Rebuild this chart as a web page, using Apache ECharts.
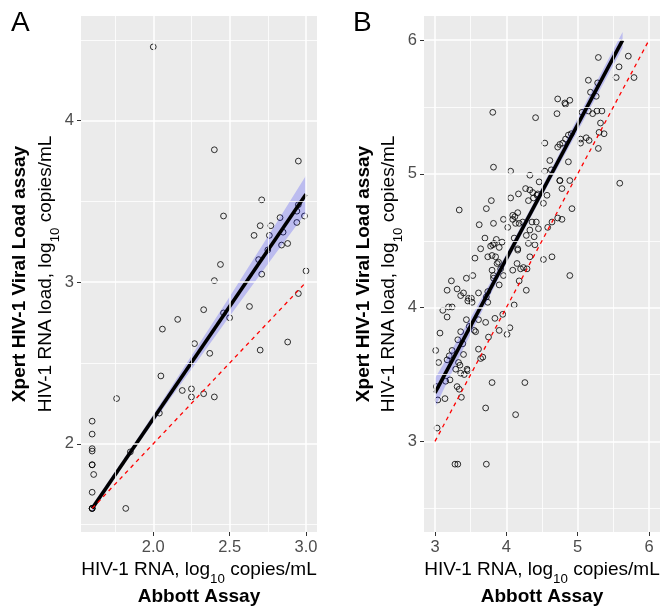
<!DOCTYPE html>
<html><head><meta charset="utf-8">
<script src="https://cdn.jsdelivr.net/npm/echarts@6/dist/echarts.min.js"></script>
<style>html,body{margin:0;padding:0;background:#fff}#c{width:663px;height:609px}</style>
</head><body><div id="c"></div>
<script>
// ---------- Panel A data ----------
const aAbbott = [2.05,1.76,2.19,2.25,2.25,2.04,1.60,1.60,1.60,1.60,1.60,1.60,1.61,1.60,1.60,1.60,1.60,1.85,1.82,
  2.40,2.71,3.00,2.33,2.63,2.95,2.16,2.06,2.50,2.46,2.27,2.37,2.70,2.88,2.33,2.40,
  2.40,2.95,2.71,2.46,2.95,2.94,2.99,2.83,2.94,2.77,2.70,2.85,2.66,2.76,2.84,2.88,2.75,2.69,2.44,2.00];
const aXpert = [2.42,2.28,2.33,2.34,2.29,2.19,2.14,2.06,1.97,1.955,1.87,1.87,1.81,1.70,1.60,1.60,1.60,1.95,1.60,
  3.01,3.05,3.07,2.83,2.85,2.93,2.77,2.71,2.78,2.81,2.62,2.56,2.58,2.63,2.31,2.29,
  3.82,3.75,3.51,3.41,3.48,3.44,3.41,3.40,3.37,3.35,3.35,3.31,3.29,3.29,3.23,3.24,3.20,3.14,3.11,4.457];
const aFitX = [1.60, 3.00];
const aFitY = [1.60, 3.545];
const aIdentity = [1.60, 3.00];
const aBandX  = [1.60, 1.90, 2.10, 2.30, 2.50, 2.80, 3.00];
const aBandLo = [1.58, 1.997, 2.265, 2.527, 2.79, 3.177, 3.43];
const aBandHi = [1.62, 2.037, 2.325, 2.617, 2.91, 3.357, 3.66];
const aXTicks = [2.0, 2.5, 3.0];
const aXMinor = [1.75, 2.25, 2.75];
const aYTicks = [2, 3, 4];
const aYMinor = [1.5, 2.5, 3.5, 4.5];

// ---------- Panel B data ----------
const bAbbott = [3.19,3.24,3.11,3.17,3.46,3.52,3.74,4.11,3.95,3.84,3.44,3.61,3.71,4.05,3.90,4.01,3.55,3.57,3.48,3.36,3.07,3.75,3.32,3.39,3.24,3.01,3.61,3.40,3.20,3.17,3.05,3.33,3.67,3.64,3.35,3.29,3.45,3.46,3.36,3.41,3.21,3.15,3.80,4.26,3.02,3.31,3.34,3.37,3.14,3.04,3.71,4.13,3.03,3.28,3.32,3.72,
  3.34,3.79,3.72,4.06,4.17,4.27,4.33,4.37,4.44,4.31,4.09,4.16,4.12,4.09,4.23,4.18,4.13,4.36,4.42,3.96,3.82,3.62,4.02,4.33,4.45,4.28,4.39,3.70,3.86,3.94,3.83,3.81,3.78,4.31,4.40,3.90,3.64,4.16,4.16,3.80,3.74,3.85,3.56,4.33,3.89,3.87,4.15,4.24,4.29,4.20,4.09,3.80,3.92,3.96,3.82,3.82,3.53,3.44,3.23,4.18,3.90,3.17,3.31,3.40,3.36,3.61,3.74,3.72,4.28,3.47,3.51,
  4.41,4.71,4.54,4.72,4.75,4.79,4.83,4.87,4.91,5.04,5.12,5.16,5.04,5.29,5.32,5.37,5.30,4.61,4.87,4.06,4.33,4.54,4.63,4.75,4.75,4.89,4.78,4.46,4.38,4.43,4.57,4.52,4.92,4.11,4.64,4.72,4.78,4.58,4.64,4.52,4.89,
  5.29,5.71,5.58,5.54,5.79,5.15,5.28,5.18,5.26,4.72,4.89,4.82,4.83,5.06,5.15,5.21,5.27,5.34,5.59,
  3.81,3.82];
const bXpert = [4.005,4.005,3.98,3.93,4.05,4.04,4.04,4.02,3.95,3.92,3.91,3.91,3.89,3.85,3.83,3.80,3.83,3.82,3.86,3.82,3.81,3.78,3.76,3.73,3.68,3.68,3.69,3.65,3.64,3.61,3.59,3.59,3.63,3.62,3.57,3.54,3.54,3.53,3.51,3.50,3.46,3.45,3.44,3.44,3.41,3.41,3.39,3.33,3.32,3.31,3.25,3.20,3.10,2.83,2.83,2.83,
  4.73,4.80,4.74,4.82,4.85,4.89,4.88,4.86,4.85,4.80,4.69,4.71,4.68,4.66,4.64,4.63,4.63,4.64,4.64,4.66,4.63,4.62,4.60,4.58,4.59,4.54,4.53,4.52,4.51,4.49,4.48,4.47,4.46,4.48,4.47,4.45,4.44,4.44,4.43,4.39,4.38,4.38,4.37,4.38,4.34,4.33,4.33,4.30,4.29,4.29,4.28,4.28,4.29,4.24,4.24,4.22,4.24,4.22,4.20,4.20,4.17,4.13,4.14,4.11,4.09,4.11,4.12,4.08,4.13,4.07,4.07,
  5.42,5.45,5.23,5.20,5.22,5.23,5.26,5.29,5.30,5.26,5.27,5.25,5.23,5.19,5.38,5.30,5.31,5.10,5.09,5.02,4.99,5.02,5.03,4.95,4.95,4.95,4.89,4.94,4.82,4.84,4.84,4.78,4.74,4.52,4.64,4.67,4.66,4.60,4.38,4.36,4.24,
  5.87,5.88,5.80,5.72,5.72,5.70,5.68,5.61,5.58,5.56,5.55,5.53,5.52,5.46,5.47,5.45,5.47,5.47,4.93,
  5.46,5.05];
const bFitX = [3.00, 5.63];
const bFitY = [3.363, 6.00];
const bIdentity = [3.00, 6.00];
const bBandX  = [3.00, 3.50, 4.00, 4.50, 5.00, 5.63];
const bBandLo = [3.253, 3.804, 4.331, 4.832, 5.318, 5.94];
const bBandHi = [3.473, 3.924, 4.401, 4.902, 5.418, 6.06];
const bXTicks = [3, 4, 5, 6];
const bXMinor = [3.5, 4.5, 5.5];
const bYTicks = [3, 4, 5, 6];
const bYMinor = [2.5, 3.5, 4.5, 5.5];

// ---------- build ----------
const FF = '"Liberation Sans", Arial, Helvetica, sans-serif';
const chart = echarts.init(document.getElementById('c'), null, {renderer: 'canvas'});

function xAxis(gi, min, max, ticks, fmt) {
  return {type: 'value', gridIndex: gi, min: min, max: max,
    axisLine: {show: false},
    axisTick: {show: true, length: 4, lineStyle: {color: '#333', width: 1}, customValues: ticks},
    axisLabel: {customValues: ticks, formatter: fmt, color: '#4D4D4D', fontSize: 16.5, margin: 7, fontFamily: FF},
    splitLine: {show: false}};
}
function gridSeries(xi, xMaj, xMin, yMaj, yMin) {
  const d = [];
  xMin.forEach(v => d.push({xAxis: v, lineStyle: {width: 0.8}}));
  yMin.forEach(v => d.push({yAxis: v, lineStyle: {width: 0.8}}));
  xMaj.forEach(v => d.push({xAxis: v, lineStyle: {width: 1.5}}));
  yMaj.forEach(v => d.push({yAxis: v, lineStyle: {width: 1.5}}));
  return {type: 'line', xAxisIndex: xi, yAxisIndex: xi, data: [], z: 1, silent: true,
    markLine: {silent: true, symbol: ['none', 'none'], label: {show: false}, animation: false,
      lineStyle: {color: '#FFFFFF', type: 'solid'}, emphasis: {disabled: true}, data: d}};
}
function bandSeries(xi, bx, lo, hi) {
  return {type: 'custom', xAxisIndex: xi, yAxisIndex: xi, z: 3, silent: true, data: [[bx[0], lo[0]]],
    renderItem: function (params, api) {
      const pts = [];
      for (let i = 0; i < bx.length; i++) pts.push(api.coord([bx[i], hi[i]]));
      for (let i = bx.length - 1; i >= 0; i--) pts.push(api.coord([bx[i], lo[i]]));
      return {type: 'polygon', shape: {points: pts}, style: {fill: 'rgba(0,0,255,0.2)'}};
    }};
}
function pairs(xs, ys) { return xs.map((x, i) => [x, ys[i]]); }
function scatter(xi, xs, ys) {
  return {type: 'scatter', xAxisIndex: xi, yAxisIndex: xi, z: 2, data: pairs(xs, ys),
    symbol: 'circle', symbolSize: 5.8, silent: true,
    itemStyle: {color: 'rgba(0,0,0,0)', borderColor: '#000', borderWidth: 1}};
}
function fit(xi, xs, ys) {
  return {type: 'line', xAxisIndex: xi, yAxisIndex: xi, z: 4, data: pairs(xs, ys), symbol: 'none', silent: true,
    lineStyle: {color: '#000', width: 3.6}};
}
function ident(xi, vals) {
  return {type: 'line', xAxisIndex: xi, yAxisIndex: xi, z: 5, data: pairs(vals, vals), symbol: 'none', silent: true,
    lineStyle: {color: '#FF0000', width: 1.3, type: [4, 4]}};
}

const richLine = {
  n: {fontSize: 19, lineHeight: 19, verticalAlign: 'top', fontFamily: FF, fill: '#000'},
  h: {fontSize: 19, lineHeight: 25, verticalAlign: 'top', fontFamily: FF, fill: '#000'},
  s: {fontSize: 13.3, lineHeight: 13, verticalAlign: 'bottom', fontFamily: FF, fill: '#000'}
};
function normalTitle(x, y, txtA, txtB, rot) {
  return {type: 'text', x: x, y: y, rotation: rot || 0, silent: true,
    style: {text: '{h|\u200b}{n|' + txtA + '}{s|10}{n|' + txtB + '}', rich: richLine, align: 'center', verticalAlign: 'middle'}};
}
function boldTitle(x, y, txt, rot) {
  return {type: 'text', x: x, y: y, rotation: rot || 0, silent: true,
    style: {text: txt, fontSize: 19, fontWeight: 'bold', fontFamily: FF, fill: '#000', align: 'center', verticalAlign: 'middle'}};
}

const GA = {left: 81, top: 16, width: 236, height: 516};
const GB = {left: 424, top: 16, width: 236, height: 516};
const midYA = GA.top + GA.height / 2;
const R = Math.PI / 2;

chart.setOption({
  animation: false,
  grid: [
    Object.assign({show: true, backgroundColor: '#EBEBEB', borderWidth: 0, outerBoundsMode: 'none'}, GA),
    Object.assign({show: true, backgroundColor: '#EBEBEB', borderWidth: 0, outerBoundsMode: 'none'}, GB)
  ],
  xAxis: [
    xAxis(0, 1.527, 3.072, aXTicks, v => v.toFixed(1)),
    xAxis(1, 2.846, 6.154, bXTicks, v => String(Math.round(v)))
  ],
  yAxis: [
    xAxis(0, 1.454, 4.648, aYTicks, v => String(Math.round(v))),
    xAxis(1, 2.323, 6.18, bYTicks, v => String(Math.round(v)))
  ],
  series: [
    gridSeries(0, aXTicks, aXMinor, aYTicks, aYMinor),
    gridSeries(1, bXTicks, bXMinor, bYTicks, bYMinor),
    scatter(0, aAbbott, aXpert),
    scatter(1, bAbbott, bXpert),
    bandSeries(0, aBandX, aBandLo, aBandHi),
    bandSeries(1, bBandX, bBandLo, bBandHi),
    fit(0, aFitX, aFitY),
    fit(1, bFitX, bFitY),
    ident(0, aIdentity),
    ident(1, bIdentity)
  ],
  graphic: [
    {type: 'text', x: 11, y: 23, silent: true, style: {text: 'A', fontSize: 28, fontFamily: FF, fill: '#000', align: 'left', verticalAlign: 'middle'}},
    {type: 'text', x: 353, y: 23, silent: true, style: {text: 'B', fontSize: 28, fontFamily: FF, fill: '#000', align: 'left', verticalAlign: 'middle'}},
    normalTitle(GA.left + GA.width / 2, 573, 'HIV-1 RNA, log', ' copies/mL'),
    boldTitle(GA.left + GA.width / 2, 597, 'Abbott Assay'),
    normalTitle(GB.left + GB.width / 2, 573, 'HIV-1 RNA, log', ' copies/mL'),
    boldTitle(GB.left + GB.width / 2, 597, 'Abbott Assay'),
    boldTitle(GA.left - 61, midYA, 'Xpert HIV-1 Viral Load assay', R),
    normalTitle(GA.left - 35 + 3, midYA, 'HIV-1 RNA load, log', ' copies/mL', R),
    boldTitle(GB.left - 60, midYA, 'Xpert HIV-1 Viral Load assay', R),
    normalTitle(GB.left - 35 + 3, midYA, 'HIV-1 RNA load, log', ' copies/mL', R)
  ]
});
</script>
</body></html>
